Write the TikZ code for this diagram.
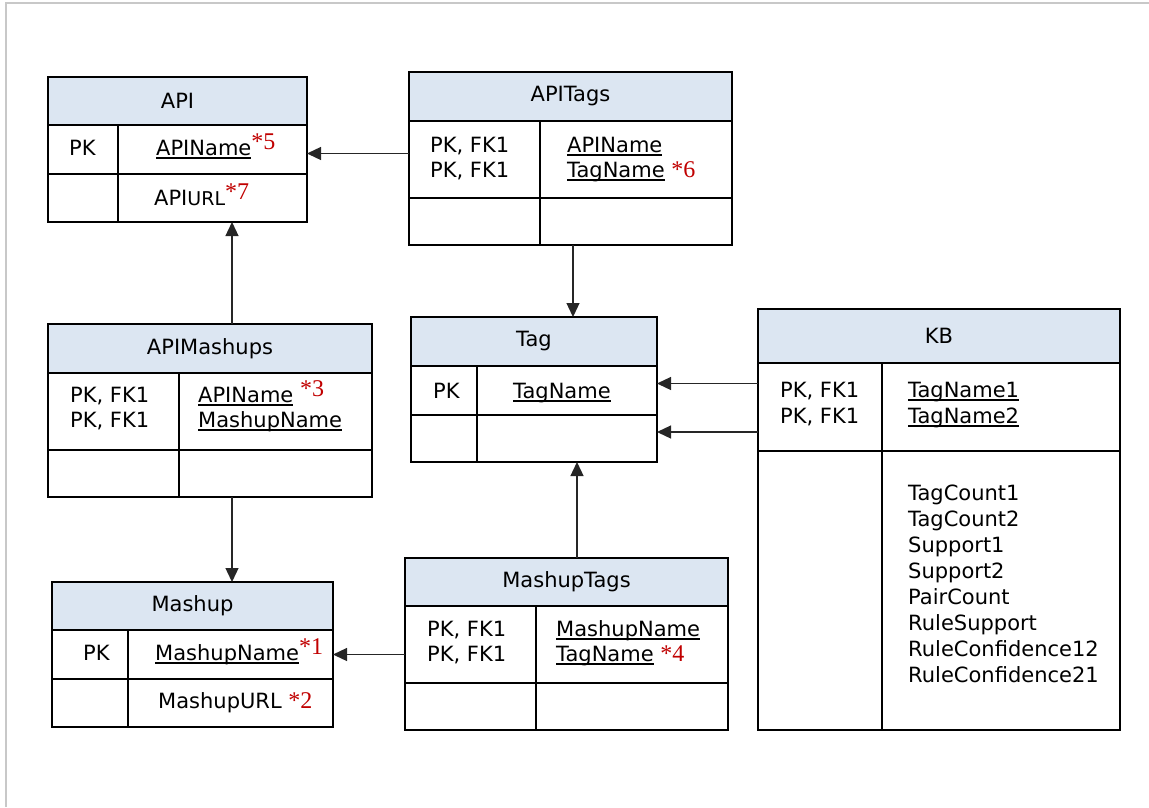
\documentclass[tikz,border=0pt]{standalone}
\usepackage{fontspec}
\setmainfont{DejaVu Sans}
\newfontfamily\notefont{Liberation Serif}
\usetikzlibrary{arrows.meta}
\definecolor{hdrblue}{RGB}{220,230,242}
\definecolor{notered}{RGB}{192,0,0}
\definecolor{framegray}{RGB}{200,200,200}
% underlined key attribute
\newcommand\keyname[1]{\begingroup\setbox0\hbox{#1}\rlap{\rule[-3.5pt]{\wd0}{1.7pt}}\box0\endgroup}
% red footnote marks
\newcommand\noteup[1]{\raisebox{6pt}{\notefont\fontsize{24}{26}\selectfont\textcolor{notered}{*#1}}}
\newcommand\noteon[1]{{\notefont\fontsize{24}{26}\selectfont\textcolor{notered}{*#1}}}
% table: name, left, top, width, divider, header h, row1 h, row2 h, title
\newcommand\erbox[9]{%
  \node[hdr, minimum width=#4pt, minimum height=#6pt, anchor=north west] (#1-h) at (#2,#3) {#9};
  \node[cell, minimum width=#4pt, minimum height=#7pt, anchor=north west] (#1-k) at (#1-h.south west) {};
  \node[cell, minimum width=#4pt, minimum height=#8pt, anchor=north west] (#1-v) at (#1-k.south west) {};
  \draw[line width=2.4pt] ([xshift=#5pt]#1-k.north west) -- ([xshift=#5pt]#1-v.south west);
}
\tikzset{
  tbl/.style={draw=black, line width=2.4pt, outer sep=0pt, inner sep=0pt},
  hdr/.style={tbl, fill=hdrblue, font=\fontsize{21}{26}\selectfont},
  cell/.style={tbl},
  txt/.style={anchor=base west, inner sep=0pt, font=\fontsize{21}{26}\selectfont},
  arr/.style={draw=black!85, line width=1.3pt, -{Triangle[length=14pt,width=13pt]}},
}
\begin{document}
\begin{tikzpicture}[x=1pt,y=-1pt]
\useasboundingbox (0,0) rectangle (1149,807);
\draw[framegray, line width=2pt] (6,807) -- (6,3) -- (1149,3);

\erbox{API}{48}{77}{259}{70}{48}{49}{48}{API}
\erbox{APITags}{409}{72}{323}{131}{49}{77}{47}{APITags}
\erbox{APIMashups}{48}{324}{324}{131}{49}{77}{47}{APIMashups}
\erbox{Tag}{411}{317}{246}{66}{49}{49}{47}{Tag}
\erbox{KB}{758}{309}{362}{124}{54}{88}{279}{KB}
\erbox{Mashup}{52}{582}{281}{76}{48}{49}{48}{Mashup}
\erbox{MashupTags}{405}{558}{323}{131}{48}{77}{47}{MashupTags}

% API
\node[txt] (api-pk) at (69,155) {PK};
\node[txt] (api-name) at (156,155) {\keyname{APIName}\noteup{5}};
\node[txt] (api-url) at (154,205) {API{\fontsize{19}{24}\selectfont URL}\noteup{7}};
% APITags
\node[txt] (at-k1) at (430,152) {PK, FK1};
\node[txt] (at-k2) at (430,177) {PK, FK1};
\node[txt] (at-a1) at (567,152) {\keyname{APIName}};
\node[txt] (at-a2) at (567,177) {\keyname{TagName} \noteon{6}};
% APIMashups
\node[txt] (am-k1) at (70,402) {PK, FK1};
\node[txt] (am-k2) at (70,427) {PK, FK1};
\node[txt] (am-a1) at (198,402) {\keyname{APIName} \noteup{3}};
\node[txt] (am-a2) at (198,427) {\keyname{MashupName}};
% Tag
\node[txt] (tag-pk) at (433,398) {PK};
\node[txt] (tag-name) at (513,398) {\keyname{TagName}};
% KB
\node[txt] (kb-k1) at (780,397) {PK, FK1};
\node[txt] (kb-k2) at (780,423) {PK, FK1};
\node[txt] (kb-a1) at (908,397) {\keyname{TagName1}};
\node[txt] (kb-a2) at (908,423) {\keyname{TagName2}};
\foreach \t [count=\i from 0] in {TagCount1,TagCount2,Support1,Support2,PairCount,RuleSupport,RuleConfidence12,RuleConfidence21}
  \node[txt] (kb-\i) at (908,{500+26*\i}) {\t};
% Mashup
\node[txt] (m-pk) at (83,660) {PK};
\node[txt] (m-name) at (155,660) {\keyname{MashupName}\noteup{1}};
\node[txt] (m-url) at (158,708) {MashupURL \noteon{2}};
% MashupTags
\node[txt] (mt-k1) at (427,636) {PK, FK1};
\node[txt] (mt-k2) at (427,661) {PK, FK1};
\node[txt] (mt-a1) at (556,636) {\keyname{MashupName}};
\node[txt] (mt-a2) at (556,661) {\keyname{TagName} \noteon{4}};

% relations
\draw[arr] ([yshift=-4pt]API-k.east -| APITags-k.west) -- ([yshift=-4pt]API-k.east);
\draw[arr] ([xshift=2.5pt]APITags-v.south) -- ([xshift=2.5pt]APITags-v.south |- Tag-h.north);
\draw[arr] ([xshift=22pt]APIMashups-h.north) -- ([xshift=22pt]APIMashups-h.north |- API-v.south);
\draw[arr] ([xshift=22pt]APIMashups-v.south) -- ([xshift=22pt]APIMashups-v.south |- Mashup-h.north);
\draw[arr] (Mashup-k.east -| MashupTags-k.west) -- (Mashup-k.east);
\draw[arr] ([xshift=10.5pt]MashupTags-h.north) -- ([xshift=10.5pt]MashupTags-h.north |- Tag-v.south);
\draw[arr] ([yshift=7pt]Tag-k.east -| KB-k.west) -- ([yshift=7pt]Tag-k.east);
\draw[arr] ([yshift=6.5pt]Tag-v.east -| KB-k.west) -- ([yshift=6.5pt]Tag-v.east);
\end{tikzpicture}
\end{document}
